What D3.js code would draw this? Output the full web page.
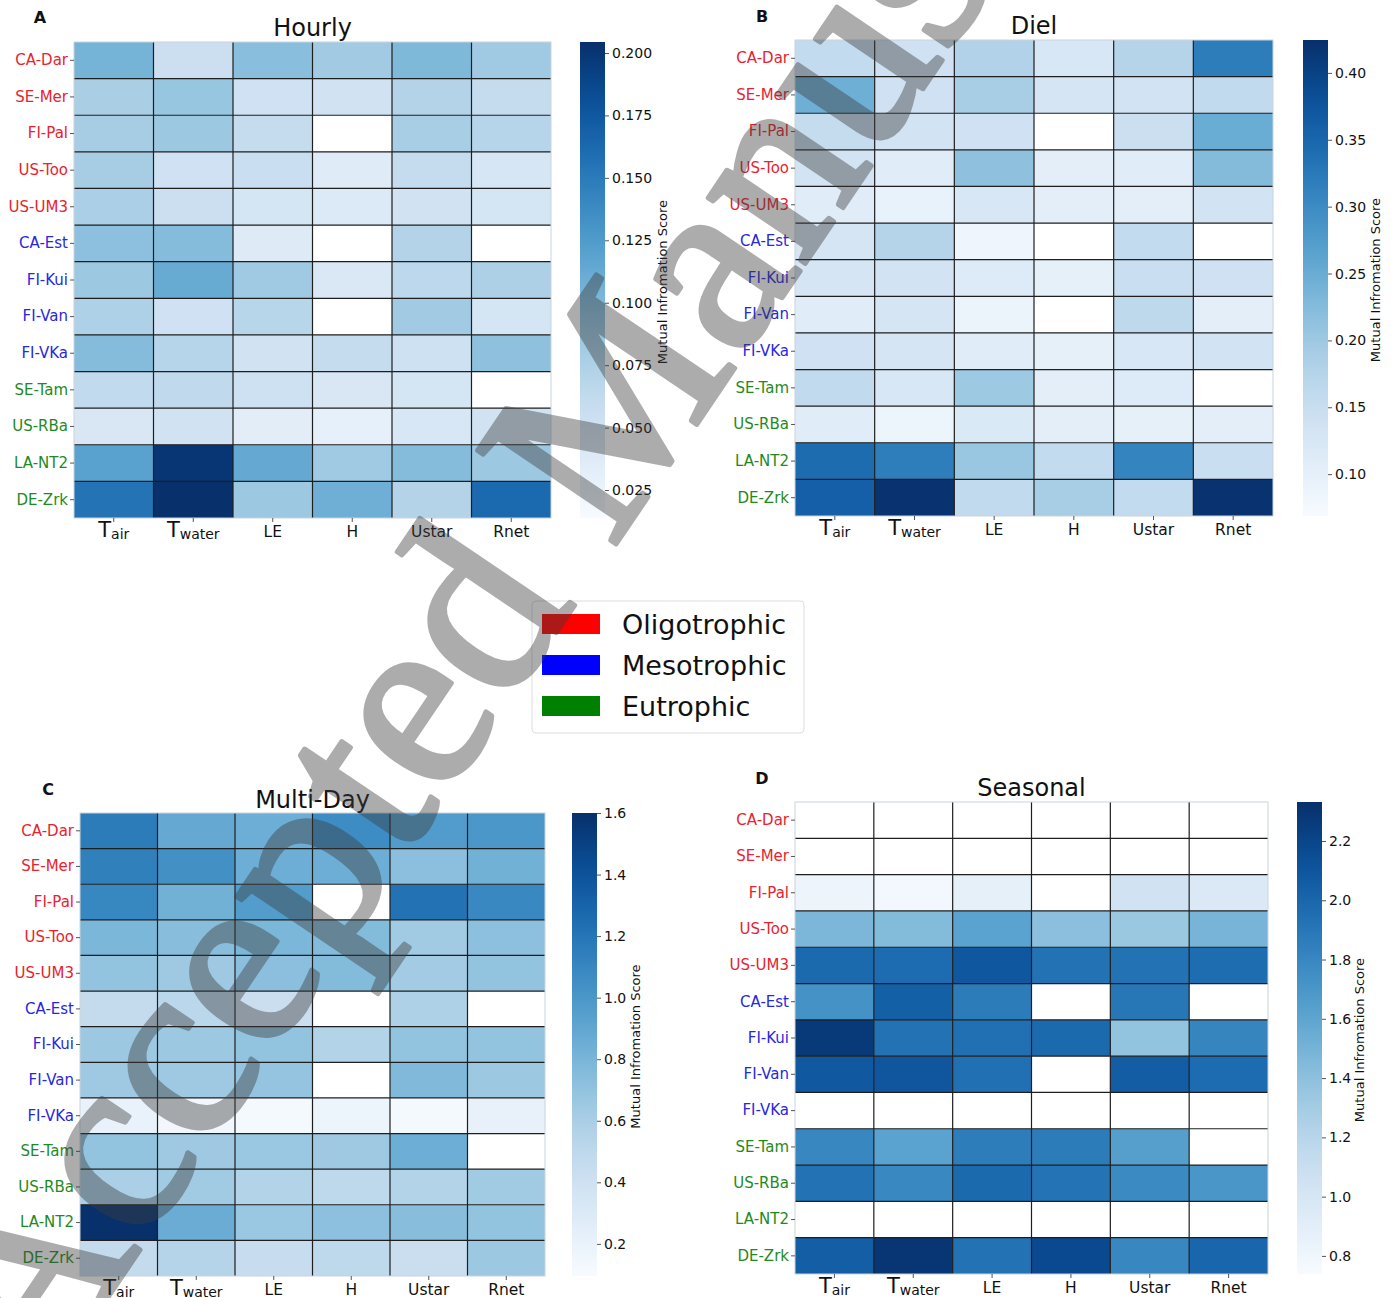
<!DOCTYPE html>
<html>
<head>
<meta charset="utf-8">
<script src="https://cdn.jsdelivr.net/npm/d3@7"></script>
<style>
  body { margin: 0; background: #fff; }
  svg { font-family: "DejaVu Sans", sans-serif; }
</style>
</head>
<body>
<svg width="1395" height="1298"></svg>
<script>
// site rows and variable columns
var sites = ["CA-Dar", "SE-Mer", "FI-Pal", "US-Too", "US-UM3", "CA-Est", "FI-Kui",
             "FI-Van", "FI-VKa", "SE-Tam", "US-RBa", "LA-NT2", "DE-Zrk"];
var siteTrophic = ["Oligotrophic", "Oligotrophic", "Oligotrophic", "Oligotrophic", "Oligotrophic",
                   "Mesotrophic", "Mesotrophic", "Mesotrophic", "Mesotrophic",
                   "Eutrophic", "Eutrophic", "Eutrophic", "Eutrophic"];
var variables = ["Tair", "Twater", "LE", "H", "Ustar", "Rnet"];
var varMain = ["T", "T", "LE", "H", "Ustar", "Rnet"];
var varSub = ["air", "water", "", "", "", ""];
var trophicLevels = ["Oligotrophic", "Mesotrophic", "Eutrophic"];

// mutual information scores (rows = sites, cols = variables), null = missing
var hourly = [
  [0.105, 0.055, 0.095, 0.082, 0.100, 0.083],
  [0.078, 0.088, 0.052, 0.050, 0.072, 0.060],
  [0.080, 0.085, 0.060, null,  0.079, 0.070],
  [0.080, 0.052, 0.057, 0.037, 0.060, 0.045],
  [0.077, 0.055, 0.047, 0.040, 0.050, 0.047],
  [0.093, 0.097, 0.038, null,  0.072, null ],
  [0.085, 0.112, 0.083, 0.042, 0.066, 0.076],
  [0.075, 0.052, 0.069, null,  0.082, 0.047],
  [0.097, 0.070, 0.050, 0.060, 0.053, 0.092],
  [0.063, 0.064, 0.053, 0.043, 0.047, null ],
  [0.043, 0.050, 0.034, 0.030, 0.044, 0.050],
  [0.120, 0.200, 0.113, 0.083, 0.097, 0.085],
  [0.155, 0.204, 0.085, 0.108, 0.072, 0.163]
];
var diel = [
  [0.158, 0.140, 0.180, 0.125, 0.175, 0.320],
  [0.245, 0.140, 0.190, 0.130, 0.135, 0.160],
  [0.155, 0.135, 0.140, null,  0.145, 0.250],
  [0.135, 0.110, 0.215, 0.105, 0.110, 0.225],
  [0.110, 0.095, 0.125, 0.105, 0.105, 0.135],
  [0.130, 0.175, 0.085, null,  0.158, null ],
  [0.130, 0.135, 0.115, 0.100, 0.150, 0.140],
  [0.110, 0.130, 0.090, null,  0.165, 0.105],
  [0.140, 0.130, 0.110, 0.100, 0.125, 0.135],
  [0.160, 0.125, 0.200, 0.105, 0.115, null ],
  [0.110, 0.088, 0.120, 0.105, 0.100, 0.105],
  [0.343, 0.318, 0.205, 0.158, 0.310, 0.150],
  [0.360, 0.420, 0.160, 0.190, 0.158, 0.420]
];
var multiDay = [
  [1.16, 0.88, 0.85, 1.07, 0.97, 1.00],
  [1.14, 1.04, 0.85, 0.85, 0.73, 0.83],
  [1.10, 0.83, 0.96, null, 1.22, 1.09],
  [0.79, 0.74, 0.79, 0.76, 0.64, 0.72],
  [0.70, 0.65, 0.73, 0.76, 0.63, 0.70],
  [0.47, 0.52, 0.43, null, 0.58, null],
  [0.66, 0.66, 0.70, 0.56, 0.70, 0.70],
  [0.65, 0.65, 0.69, null, 0.77, 0.66],
  [0.20, 0.14, 0.12, 0.17, 0.12, 0.21],
  [0.70, 0.65, 0.67, 0.65, 0.85, null],
  [0.60, 0.64, 0.56, 0.50, 0.56, 0.64],
  [1.60, 0.86, 0.67, 0.72, 0.74, 0.70],
  [0.47, 0.55, 0.45, 0.50, 0.43, 0.66]
];
var seasonal = [
  [null, null, null, null, null, null],
  [null, null, null, null, null, null],
  [0.82, 0.78, 0.88, null, 1.04, 0.96],
  [1.47, 1.44, 1.62, 1.41, 1.34, 1.49],
  [1.98, 1.97, 2.09, 1.93, 1.93, 1.96],
  [1.73, 2.04, 1.87, null, 1.90, null],
  [2.28, 1.93, 1.94, 1.98, 1.38, 1.81],
  [2.08, 2.10, 1.94, null, 2.06, 1.97],
  [null, null, null, null, null, null],
  [1.80, 1.62, 1.86, 1.87, 1.64, null],
  [1.93, 1.79, 1.98, 1.92, 1.78, 1.70],
  [null, null, null, null, null, null],
  [2.05, 2.30, 1.93, 2.18, 1.80, 2.00]
];

// colour bar ranges and ticks
var hourlyRange = [0.0138, 0.2044], hourlyTicks = [0.025, 0.05, 0.075, 0.1, 0.125, 0.15, 0.175, 0.2];
var dielRange = [0.0687, 0.4246], dielTicks = [0.1, 0.15, 0.2, 0.25, 0.3, 0.35, 0.4];
var multiRange = [0.0956, 1.6], multiTicks = [0.2, 0.4, 0.6, 0.8, 1.0, 1.2, 1.4, 1.6];
var seasonalRange = [0.739, 2.3315], seasonalTicks = [0.8, 1.0, 1.2, 1.4, 1.6, 1.8, 2.0, 2.2];

var svg = d3.select("svg");
var trophicColor = d3.scaleOrdinal().domain(trophicLevels).range(["#e8232f", "#2828dc", "#1f8a24"]);
var legendColor = d3.scaleOrdinal().domain(trophicLevels).range(["#ff0000", "#0000ff", "#008000"]);

// lx/ly = panel letter, ty = title baseline, lab = colour bar label offset
var panels = [
  {letter: "A", title: "Hourly", data: hourly, range: hourlyRange, ticks: hourlyTicks, fmt: ".3f",
   x0: 74, x1: 551, y0: 42, y1: 518, cb: 580, lx: 40, ly: 17, ty: 36, lab: 62},
  {letter: "B", title: "Diel", data: diel, range: dielRange, ticks: dielTicks, fmt: ".2f",
   x0: 795, x1: 1273, y0: 40, y1: 516, cb: 1303, lx: 762, ly: 16, ty: 34, lab: 52},
  {letter: "C", title: "Multi-Day", data: multiDay, range: multiRange, ticks: multiTicks, fmt: ".1f",
   x0: 80, x1: 545, y0: 813, y1: 1276, cb: 572, lx: 48, ly: 789, ty: 808, lab: 43},
  {letter: "D", title: "Seasonal", data: seasonal, range: seasonalRange, ticks: seasonalTicks, fmt: ".1f",
   x0: 795, x1: 1268, y0: 802, y1: 1274, cb: 1297, lx: 762, ly: 778, ty: 796, lab: 42}
];

var defs = svg.append("defs");

panels.forEach(function(p, pi) {
  var g = svg.append("g");

  var x = d3.scaleBand().domain(variables).range([p.x0, p.x1]);
  var y = d3.scaleBand().domain(sites).range([p.y0, p.y1]);
  var color = d3.scaleSequential(d3.interpolateBlues).domain(p.range);

  var cells = [];
  p.data.forEach(function(row, i) {
    row.forEach(function(v, j) { cells.push({site: sites[i], variable: variables[j], value: v}); });
  });

  // cells
  g.selectAll("rect.cell")
    .data(cells)
    .enter()
    .append("rect")
      .attr("class", "cell")
      .attr("x", function(d){ return x(d.variable) })
      .attr("y", function(d){ return y(d.site) })
      .attr("width", x.bandwidth())
      .attr("height", y.bandwidth())
      .attr("fill", function(d){ return d.value == null ? "#ffffff" : color(d.value) })

  // inner grid lines
  g.selectAll("line.vgrid")
    .data(variables.slice(1))
    .enter()
    .append("line")
      .attr("x1", function(d){ return x(d) }).attr("x2", function(d){ return x(d) })
      .attr("y1", p.y0).attr("y2", p.y1)
      .attr("stroke", "#1e1e1e").attr("stroke-width", 1.2)
  g.selectAll("line.hgrid")
    .data(sites.slice(1))
    .enter()
    .append("line")
      .attr("y1", function(d){ return y(d) }).attr("y2", function(d){ return y(d) })
      .attr("x1", p.x0).attr("x2", p.x1)
      .attr("stroke", "#1e1e1e").attr("stroke-width", 1.2)
  g.append("rect")
    .attr("x", p.x0).attr("y", p.y0)
    .attr("width", p.x1 - p.x0).attr("height", p.y1 - p.y0)
    .attr("fill", "none").attr("stroke", "#c9d3dc").attr("stroke-width", 1)

  // y axis with coloured site names
  var yAxis = g.append("g")
    .attr("transform", "translate(" + p.x0 + ",0)")
    .call(d3.axisLeft(y).tickSize(4).tickPadding(2))
  yAxis.select(".domain").remove()
  yAxis.selectAll(".tick line").attr("stroke", "#555")
  yAxis.selectAll(".tick text")
    .attr("font-size", 15)
    .attr("font-family", "DejaVu Sans")
    .attr("fill", function(d){ return trophicColor(siteTrophic[sites.indexOf(d)]) })

  // x axis with subscripts
  var xAxis = g.append("g")
    .attr("transform", "translate(0," + p.y1 + ")")
    .call(d3.axisBottom(x).tickSize(4).tickFormat(""))
  xAxis.select(".domain").remove()
  xAxis.selectAll(".tick line").attr("stroke", "#555")
  variables.forEach(function(v, j) {
    var t = g.append("text")
      .attr("x", x(v) + x.bandwidth() / 2)
      .attr("y", p.y1 + 19)
      .attr("text-anchor", "middle")
      .attr("fill", "#111")
    if (varSub[j]) {
      t.append("tspan").attr("font-size", 21).text(varMain[j])
      t.append("tspan").attr("font-size", 14).attr("dy", 2).text(varSub[j])
    } else {
      t.attr("font-size", 15.5).text(varMain[j])
    }
  })

  // title and panel letter
  g.append("text")
    .attr("x", (p.x0 + p.x1) / 2).attr("y", p.ty)
    .attr("text-anchor", "middle").attr("font-size", 24).attr("fill", "#111")
    .text(p.title)
  g.append("text")
    .attr("x", p.lx).attr("y", p.ly + 6)
    .attr("text-anchor", "middle").attr("font-size", 16).attr("font-weight", "bold").attr("fill", "#111")
    .text(p.letter)

  // colour bar
  var gradId = "grad" + pi;
  var grad = defs.append("linearGradient").attr("id", gradId)
    .attr("x1", 0).attr("y1", 1).attr("x2", 0).attr("y2", 0);
  d3.range(0, 1.0001, 0.05).forEach(function(t) {
    grad.append("stop").attr("offset", t).attr("stop-color", d3.interpolateBlues(t));
  });
  var cbW = 25;
  g.append("rect")
    .attr("x", p.cb).attr("y", p.y0)
    .attr("width", cbW).attr("height", p.y1 - p.y0)
    .attr("fill", "url(#" + gradId + ")")
  var cScale = d3.scaleLinear().domain(p.range).range([p.y1, p.y0]);
  var cAxis = g.append("g")
    .attr("transform", "translate(" + (p.cb + cbW) + ",0)")
    .call(d3.axisRight(cScale).tickValues(p.ticks).tickFormat(d3.format(p.fmt)).tickSize(4).tickPadding(3))
  cAxis.select(".domain").remove()
  cAxis.selectAll(".tick line").attr("stroke", "#555")
  cAxis.selectAll(".tick text").attr("font-size", 14).attr("font-family", "DejaVu Sans").attr("fill", "#111")
  g.append("text")
    .attr("transform", "translate(" + (p.cb + cbW + p.lab) + "," + ((p.y0 + p.y1) / 2 + 2) + ") rotate(-90)")
    .attr("text-anchor", "middle").attr("font-size", 13).attr("fill", "#111")
    .text("Mutual Infromation Score")
});

// trophic state legend
var legend = svg.append("g").attr("transform", "translate(532,601)");
legend.append("rect")
  .attr("width", 272).attr("height", 132).attr("rx", 4)
  .attr("fill", "#fff").attr("stroke", "#dddddd")
legend.selectAll("rect.patch")
  .data(trophicLevels)
  .enter()
  .append("rect")
    .attr("x", 10).attr("y", function(d, i){ return 13 + i * 41 })
    .attr("width", 58).attr("height", 20)
    .attr("fill", function(d){ return legendColor(d) })
legend.selectAll("text")
  .data(trophicLevels)
  .enter()
  .append("text")
    .attr("x", 90).attr("y", function(d, i){ return 33 + i * 41 })
    .attr("font-size", 27).attr("fill", "#111")
    .text(function(d){ return d })

// journal watermark across the figure
svg.append("g")
  .attr("opacity", 0.42)
  .append("text")
    .attr("transform", "translate(38,1401) rotate(-56)")
    .attr("font-family", "Liberation Serif")
    .attr("font-size", 255)
    .attr("fill", "rgb(60,60,60)")
    .attr("stroke", "rgb(60,60,60)")
    .attr("stroke-width", 5)
    .attr("stroke-linejoin", "round")
    .text("Accepted Manuscript")
</script>
</body>
</html>
